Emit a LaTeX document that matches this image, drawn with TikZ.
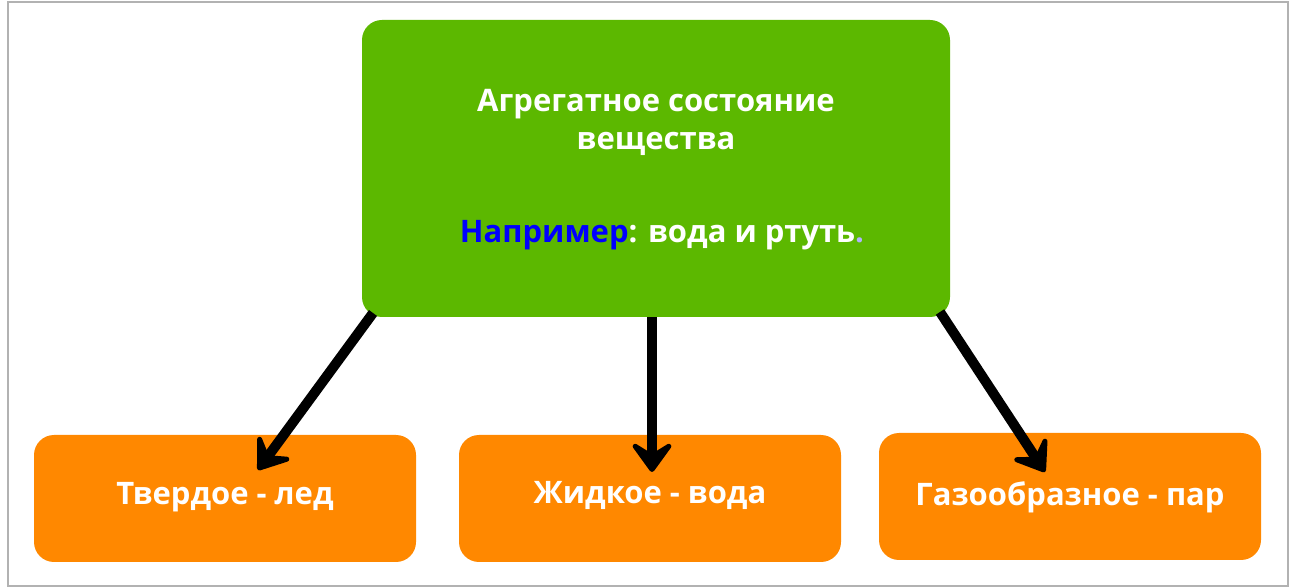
\documentclass[tikz,border=0pt]{standalone}
\usepackage{fontspec}
\setmainfont{Open Sans}
\usetikzlibrary{arrows.meta}
\definecolor{grn}{HTML}{5CB800}
\definecolor{org}{HTML}{FF8800}
\definecolor{blu}{HTML}{0000FF}
\begin{document}
\begin{tikzpicture}[x=0.5pt,y=-0.5pt,
  box/.style={rounded corners=10pt,inner sep=0pt},
  lbl/.style={text=white,font=\bfseries\fontsize{15.5}{19}\selectfont,align=center},
  arr/.style={line width=5pt,-{Stealth[length=18pt,width=26pt,inset=8pt,round]}}]
\useasboundingbox (0,0) rectangle (1298,588);
\fill[white] (0,0) rectangle (1298,588);
\draw[gray!60,line width=0.6pt] (8,2) rectangle (1288,586);
\fill[grn,box] (362,20) rectangle (950,317);
\node[lbl] (t) at (656,122) {Агрегатное состояние\\вещества};
\node[lbl] (e) at (662,235) {\textcolor{blu}{Например}: вода и ртуть\textcolor{blu!30!white}{.}};
\fill[org,box] (34,435) rectangle (416,562);
\fill[org,box] (459,435) rectangle (841,562);
\fill[org,box] (879,433) rectangle (1261,560);
\node[lbl] (a) at (225,497) {Твердое - лед};
\node[lbl] (b) at (650,495) {Жидкое - вода};
\node[lbl] (c) at (1070,497) {Газообразное - пар};
\coordinate (s1) at (373,313); \coordinate (e1) at (258,470);
\coordinate (s2) at (652,317); \coordinate (e2) at (652,472);
\coordinate (s3) at (940,312); \coordinate (e3) at (1045,472);
\draw[arr] (s1) -- (e1);
\draw[arr] (s2) -- (e2);
\draw[arr] (s3) -- (e3);
\end{tikzpicture}
\end{document}
